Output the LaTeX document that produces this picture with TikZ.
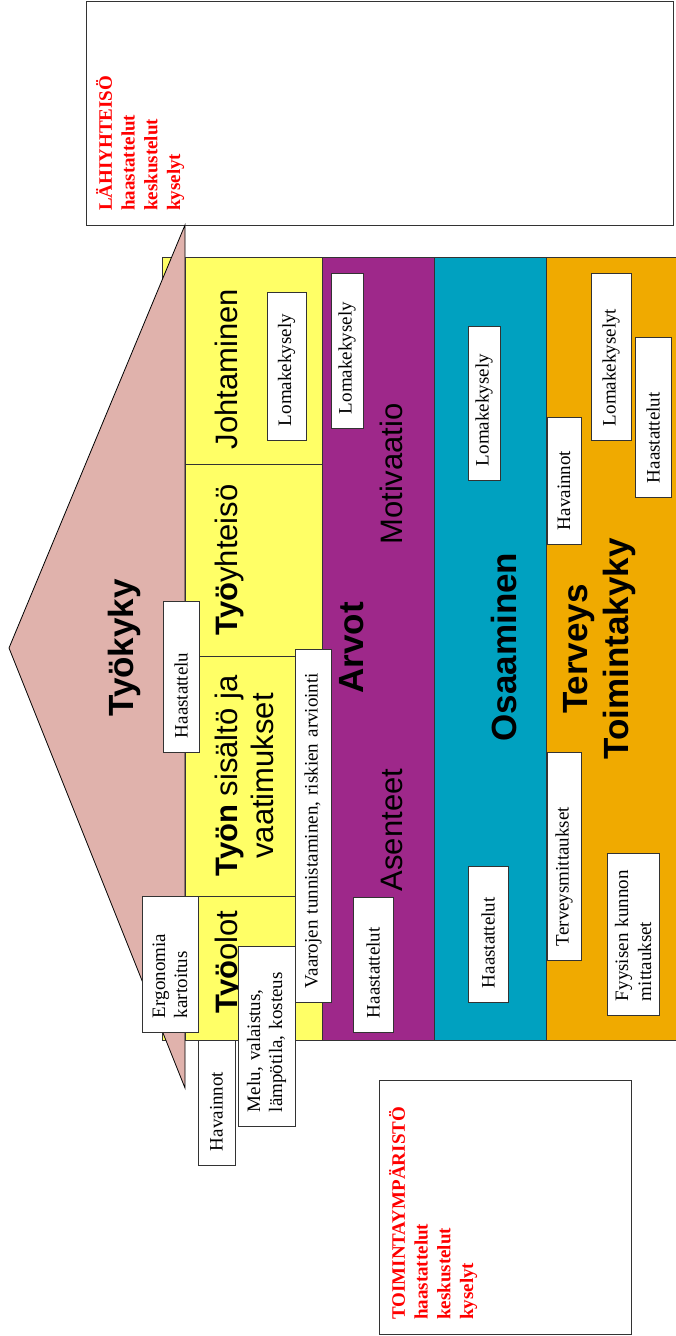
\documentclass[tikz,border=0pt]{standalone}
\usepackage{fontspec}
\setmainfont{Liberation Serif}
\setsansfont{Liberation Sans}
\usetikzlibrary{positioning}
\definecolor{roofpink}{RGB}{224,178,172}
\definecolor{cellyellow}{RGB}{255,255,102}
\definecolor{valuepurple}{RGB}{158,40,138}
\definecolor{skillteal}{RGB}{0,161,192}
\definecolor{healthorange}{RGB}{240,170,0}
\definecolor{edgegray}{RGB}{51,51,51}
\tikzset{
    x=1pt, y=-1pt, % one unit is one pixel of the slide
    every node/.style={rotate=90}, % the whole slide lies on its side
    cell/.style={draw=edgegray, line width=1pt}, % walls of the house
    heading/.style={font=\sffamily\fontsize{31}{36}\selectfont, anchor=base, inner sep=0pt, align=center},
    bighead/.style={font=\sffamily\bfseries\fontsize{35}{41}\selectfont, anchor=base, inner sep=0pt, align=center},
    method/.style 2 args={draw=edgegray, line width=1pt, fill=white, text width=#1pt, minimum height=#2pt,
        inner xsep=14pt, inner ysep=0pt, align=left, font=\fontsize{19}{22}\selectfont}, % white label boxes
    note/.style={text=red, font=\bfseries\fontsize{19}{22.7}\selectfont, align=left, anchor=base west, inner sep=0pt},
}
\begin{document}
\begin{tikzpicture}
\useasboundingbox (0,0) rectangle (675,1336);
% outer boxes
\draw[cell, fill=white] (86,1) rectangle (673,225);
\draw[cell, fill=white] (379,1080) rectangle (631,1334);
% house
\draw[cell, fill=cellyellow] (162,257) rectangle (322,1040);
\draw[draw=black, line width=0.8pt, fill=roofpink] (185,225) -- (9,648) -- (185,1088) -- cycle;
\draw[cell, fill=cellyellow] (185,257) rectangle (322,464);
\draw[cell, fill=cellyellow] (185,464) rectangle (322,656);
\draw[cell, fill=cellyellow] (185,656) rectangle (322,896);
\draw[cell, fill=cellyellow] (185,896) rectangle (322,1040);
\draw[cell, fill=valuepurple] (322,257) rectangle (434,1040);
\draw[cell, fill=skillteal] (434,257) rectangle (546,1040);
\draw[cell, fill=healthorange] (546,257) rectangle (680,1040);

% headings (base = last baseline)
\node[bighead] (tyokyky) at (133,648) {Työkyky};
\node[heading] (johtaminen) at (237,369) {Johtaminen};
\node[heading] (tyoyhteiso) at (237,560) {\textbf{Työ}yhteisö};
\node[heading] (sisalto) at (273,776) {\textbf{Työn} sisältö ja\\vaatimukset};
\node[heading] (tyoolot) at (237,962) {\textbf{Työ}olot};
\node[heading] (motivaatio) at (402,474) {Motivaatio};
\node[bighead] (arvot) at (363,648) {Arvot};
\node[heading] (asenteet) at (402,830) {Asenteet};
\node[bighead] (osaaminen) at (516,647) {Osaaminen};
\node[bighead] (terveys) at (628,649) {Terveys\\Toimintakyky};

% methods
\node[method={120}{39}] (lomjoh) at (286.5,366) {Lomakekysely};
\node[method={127}{32}] (lomarv) at (347,350.5) {Lomakekysely};
\node[method={126}{32}] (lomosa) at (484,403) {Lomakekysely};
\node[method={99}{34}] (havter) at (564,480.5) {Havainnot};
\node[method={139}{40}] (lomter) at (611,356.5) {Lomakekyselyt};
\node[method={132}{36}] (haater) at (653,417) {Haastattelut};
\node[method={123}{36}] (haaroof) at (181,676.5) {Haastattelu};
\node[method={325}{36}] (vaara) at (313,825.5) {Vaarojen tunnistaminen, riskien arviointi};
\node[method={108}{56}] (ergo) at (170,964) {Ergonomia\\kartoitus};
\node[method={97}{37}] (havleft) at (216.5,1102.5) {Havainnot};
\node[method={152}{57}] (melu) at (266.5,1036) {Melu, valaistus,\\lämpötila, kosteus};
\node[method={107}{40}] (haaarv) at (373,964.5) {Haastattelut};
\node[method={108}{40}] (haaosa) at (488,934) {Haastattelut};
\node[method={180}{34}] (termit) at (564,856) {Terveysmittaukset};
\node[method={134}{52}, font=\fontsize{19}{23}\selectfont] (fyys) at (633,934) {Fyysisen kunnon\\mittaukset};

% surroundings
\node[note] (lahi) at (180,211) {LÄHIYHTEISÖ\\haastattelut\\keskustelut\\kyselyt};
\node[note] (toim) at (473,1320) {TOIMINTAYMPÄRISTÖ\\haastattelut\\keskustelut\\kyselyt};
\end{tikzpicture}
\end{document}
